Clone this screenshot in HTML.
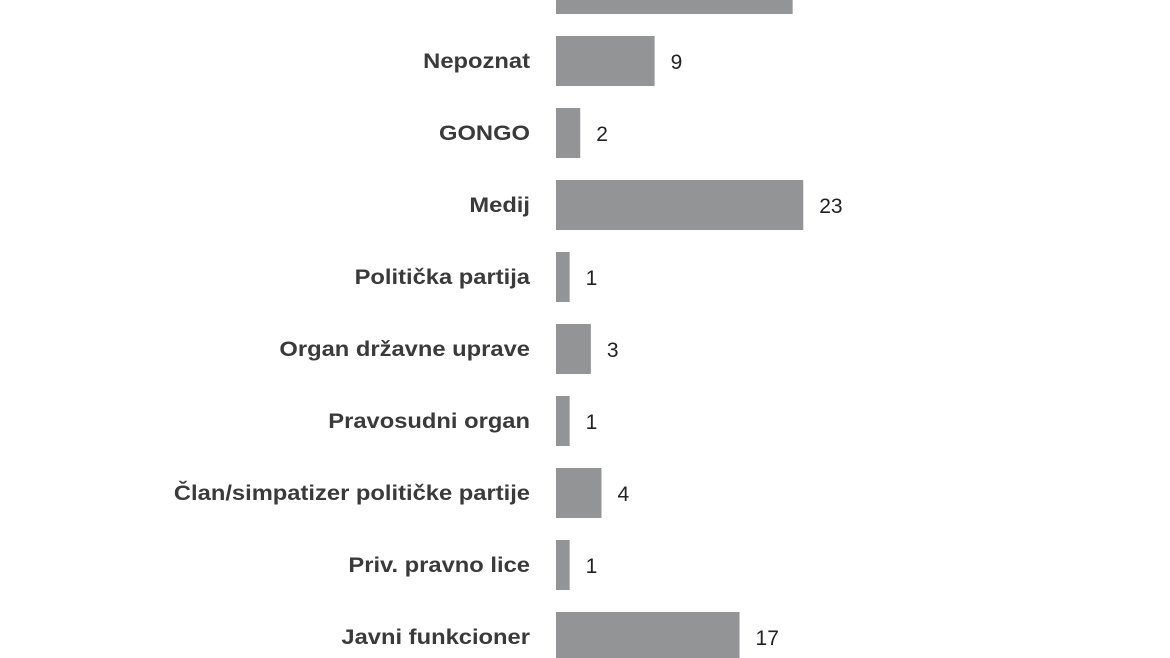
<!DOCTYPE html>
<html><head><meta charset="utf-8"><style>
html,body{margin:0;padding:0;background:#fff;width:1170px;height:658px;overflow:hidden}
svg text{font-family:"Liberation Sans",sans-serif}
</style></head><body>
<svg id="chart" width="1170" height="658" xmlns="http://www.w3.org/2000/svg"></svg>
<script>
const categories=["Građanin","Nepoznat","GONGO","Medij","Politička partija","Organ državne uprave","Pravosudni organ","Član/simpatizer političke partije","Priv. pravno lice","Javni funkcioner"];
const values=[22,9,2,23,1,3,1,4,1,17];
const x0=556, unit=10.62, pad=3, firstCenter=-11, step=72, barH=50;
const xs=v=>x0+pad+v*unit;
const yc=i=>firstCenter+i*step;
const svg=document.getElementById('chart');
const NS='http://www.w3.org/2000/svg';
categories.forEach((c,i)=>{
  const r=document.createElementNS(NS,'rect');
  
  
  r.setAttribute('x',x0);r.setAttribute('y',yc(i)-barH/2);
  r.setAttribute('width',xs(values[i])-x0);r.setAttribute('height',barH);
  r.setAttribute('fill','#939496');
  svg.appendChild(r);
  const t=document.createElementNS(NS,'text');
  
  
  t.setAttribute('x',530);t.setAttribute('y',yc(i)+7);
  t.setAttribute('text-anchor','end');t.setAttribute('font-size','21');
  t.setAttribute('font-weight','bold');t.setAttribute('fill','#3a3a3a');
  t.textContent=c;svg.appendChild(t);
  const w=t.getComputedTextLength();
  if(w>0){t.setAttribute('textLength',(w*1.13).toFixed(1));t.setAttribute('lengthAdjust','spacingAndGlyphs');}
  const v=document.createElementNS(NS,'text');
  
  
  v.setAttribute('x',xs(values[i])+16);v.setAttribute('y',yc(i)+8);
  v.setAttribute('font-size','21');v.setAttribute('fill','#222');
  v.textContent=values[i];svg.appendChild(v);
});
</script>
</body></html>
